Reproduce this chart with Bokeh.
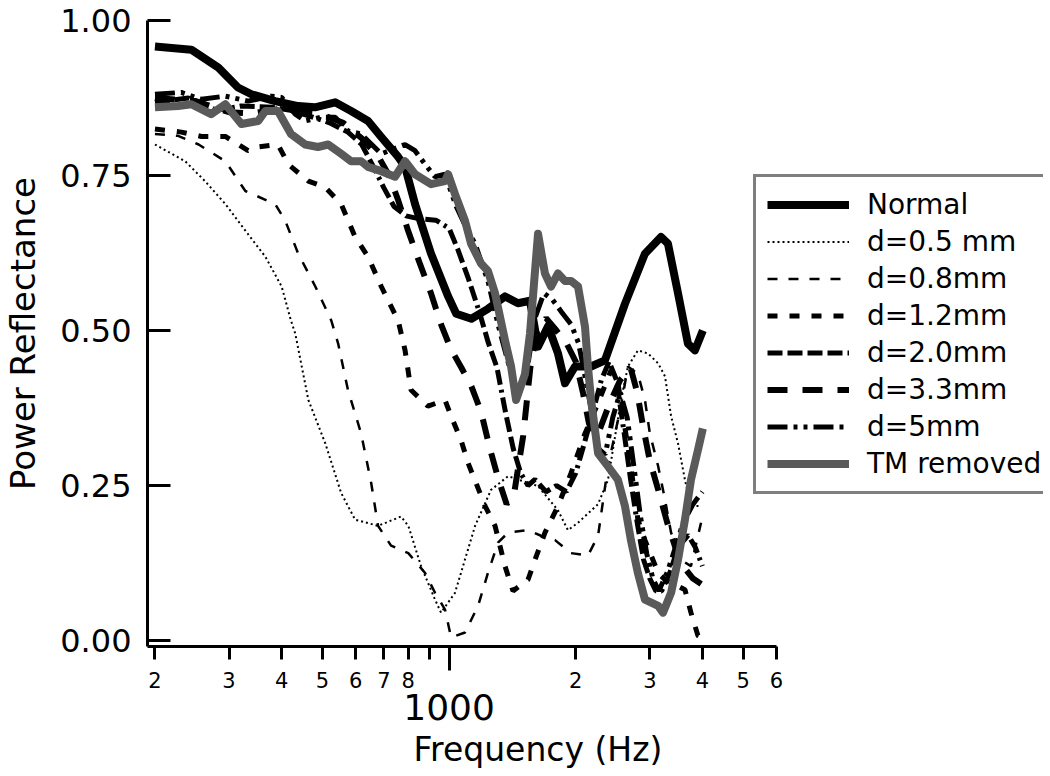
from bokeh.plotting import figure
from bokeh.models import Range1d, FixedTicker, Legend, LegendItem, LogAxis, Title
from bokeh.embed import file_html
from bokeh.resources import INLINE

# ---------------- data ----------------
freq_normal = [200, 244, 283, 315, 339, 386, 438, 480, 536, 585, 642, 690, 757, 786, 830, 906, 995,
               1040, 1130, 1237, 1358, 1458, 1557, 1627, 1719, 1815, 1886, 1992, 2175, 2347, 2618,
               2921, 3188, 3313, 3500, 3695, 3840, 4010]
refl_normal = [0.958, 0.953, 0.924, 0.892, 0.881, 0.870, 0.862, 0.860, 0.868, 0.854, 0.838, 0.812,
               0.780, 0.764, 0.704, 0.624, 0.555, 0.527, 0.519, 0.535, 0.555, 0.544, 0.548, 0.474,
               0.507, 0.463, 0.415, 0.442, 0.442, 0.452, 0.543, 0.624, 0.651, 0.640, 0.560, 0.479,
               0.468, 0.500]

freq_d05 = [200, 236, 263, 294, 328, 366, 400, 421, 431, 463, 508, 554, 598, 678, 769, 800, 858, 926,
            957, 1033, 1153, 1258, 1381, 1627, 1815, 1917, 2025, 2260, 2386, 2562, 2661, 2810, 2970,
            3140, 3260, 3370, 3500, 3636, 3757, 3970]
refl_d05 = [0.80, 0.773, 0.741, 0.704, 0.661, 0.619, 0.571, 0.516, 0.495, 0.388, 0.318, 0.238, 0.195,
            0.185, 0.20, 0.185, 0.12, 0.066, 0.045, 0.077, 0.185, 0.243, 0.265, 0.249, 0.21, 0.178,
            0.19, 0.22, 0.259, 0.388, 0.442, 0.468, 0.463, 0.447, 0.426, 0.362, 0.318, 0.259, 0.217,
            0.217]

freq_d08 = [200, 227, 254, 283, 294, 328, 386, 408, 438, 481, 525, 545, 575, 618, 653, 678, 728, 800,
            877, 926, 978, 1011, 1091, 1172, 1237, 1307, 1381, 1540, 1654, 1786, 1949, 2138, 2260,
            2386, 2480, 2562, 2661, 2810, 2921, 3000, 3140, 3260, 3370, 3556, 3757, 3970]
refl_d08 = [0.817, 0.814, 0.80, 0.78, 0.773, 0.725, 0.704, 0.677, 0.624, 0.571, 0.516, 0.479, 0.404,
            0.334, 0.254, 0.185, 0.153, 0.141, 0.109, 0.077, 0.05, 0.005, 0.013, 0.056, 0.109, 0.158,
            0.174, 0.178, 0.169, 0.162, 0.141, 0.137, 0.169, 0.281, 0.334, 0.378, 0.442, 0.43, 0.388,
            0.334, 0.281, 0.227, 0.174, 0.13, 0.12, 0.19]

freq_d12 = [200, 231, 258, 294, 333, 352, 392, 415, 463, 508, 554, 598, 642, 690, 757, 786, 812, 891,
            978, 1011, 1068, 1110, 1159, 1218, 1286, 1358, 1419, 1540, 1600, 1690, 1815, 1949, 2104,
            2260, 2426, 2520, 2705, 2810, 2921, 3140, 3260, 3636, 3757, 3903, 4000]
refl_d12 = [0.825, 0.82, 0.813, 0.813, 0.79, 0.796, 0.80, 0.768, 0.741, 0.731, 0.704, 0.651, 0.619,
            0.571, 0.516, 0.468, 0.404, 0.378, 0.388, 0.362, 0.323, 0.286, 0.254, 0.217, 0.185, 0.12,
            0.08, 0.098, 0.13, 0.174, 0.217, 0.27, 0.334, 0.383, 0.436, 0.415, 0.281, 0.195, 0.162,
            0.109, 0.098, 0.082, 0.045, 0.008, 0.003]

freq_d20 = [200, 240, 280, 320, 380, 420, 470, 520, 575, 620, 660, 700, 740, 790, 850, 930, 1000,
            1050, 1110, 1180, 1240, 1300, 1360, 1420, 1480, 1540, 1600, 1700, 1800, 1900, 2000, 2100,
            2200, 2300, 2400, 2500, 2600, 2700, 2800, 2900, 3000, 3100, 3200, 3350, 3500, 3700, 3850,
            4000]
refl_d20 = [0.868, 0.875, 0.855, 0.862, 0.86, 0.855, 0.845, 0.835, 0.82, 0.80, 0.765, 0.73, 0.70,
            0.685, 0.68, 0.678, 0.665, 0.63, 0.585, 0.53, 0.48, 0.44, 0.37, 0.31, 0.27, 0.25, 0.26,
            0.24, 0.25, 0.24, 0.27, 0.32, 0.37, 0.42, 0.45, 0.42, 0.34, 0.26, 0.19, 0.13, 0.10, 0.08,
            0.08, 0.11, 0.15, 0.17, 0.15, 0.12]

freq_d33 = [200, 250, 300, 340, 400, 450, 500, 560, 620, 680, 720, 757, 800, 850, 906, 957, 1010,
            1070, 1130, 1190, 1250, 1310, 1370, 1430, 1500, 1560, 1620, 1700, 1800, 1900, 2000, 2080,
            2150, 2250, 2400, 2550, 2700, 2800, 2900, 3000, 3150, 3300, 3450, 3600, 3800, 4000]
refl_d33 = [0.875, 0.87, 0.852, 0.85, 0.858, 0.852, 0.848, 0.835, 0.81, 0.78, 0.75, 0.71, 0.66, 0.61,
            0.56, 0.51, 0.47, 0.44, 0.41, 0.37, 0.31, 0.26, 0.22, 0.24, 0.33, 0.44, 0.50, 0.52, 0.50,
            0.48, 0.45, 0.40, 0.35, 0.33, 0.38, 0.42, 0.44, 0.40, 0.34, 0.29, 0.24, 0.19, 0.15, 0.12,
            0.10, 0.09]

freq_d5 = [200, 231, 258, 294, 333, 378, 400, 431, 455, 497, 536, 575, 618, 690, 786, 830, 877, 926,
           978, 1040, 1100, 1153, 1237, 1307, 1380, 1450, 1520, 1600, 1680, 1760, 1850, 1950, 2030,
           2100, 2180, 2260, 2350, 2450, 2550, 2650, 2750, 2850, 2950, 3050, 3150, 3300, 3450, 3600,
           3800, 4000]
refl_d5 = [0.881, 0.884, 0.873, 0.878, 0.87, 0.878, 0.876, 0.849, 0.838, 0.844, 0.844, 0.822, 0.817,
           0.785, 0.80, 0.79, 0.768, 0.748, 0.752, 0.70, 0.665, 0.64, 0.58, 0.51, 0.45, 0.40, 0.42,
           0.52, 0.56, 0.55, 0.53, 0.51, 0.48, 0.43, 0.37, 0.31, 0.30, 0.36, 0.40, 0.36, 0.28, 0.20,
           0.14, 0.10, 0.08, 0.11, 0.15, 0.19, 0.22, 0.24]

freq_tm = [200, 227, 244, 272, 294, 321, 352, 366, 392, 421, 455, 488, 516, 554, 585, 618, 642, 690,
           744, 786, 830, 906, 978, 995, 1033, 1091, 1128, 1191, 1237, 1286, 1358, 1404, 1443, 1515,
           1557, 1627, 1690, 1747, 1815, 1886, 1949, 2025, 2104, 2138, 2175, 2260, 2386, 2520, 2618,
           2705, 2810, 2921, 3140, 3224, 3370, 3500, 3636, 3757, 3903, 4010]
refl_tm = [0.860, 0.862, 0.865, 0.849, 0.865, 0.833, 0.838, 0.854, 0.854, 0.817, 0.80, 0.796, 0.80,
           0.785, 0.773, 0.773, 0.764, 0.757, 0.748, 0.773, 0.752, 0.736, 0.741, 0.752, 0.72, 0.677,
           0.64, 0.608, 0.596, 0.56, 0.484, 0.442, 0.388, 0.43, 0.495, 0.656, 0.592, 0.571, 0.592,
           0.58, 0.58, 0.571, 0.506, 0.442, 0.388, 0.302, 0.281, 0.259, 0.217, 0.162, 0.109, 0.066,
           0.056, 0.045, 0.077, 0.13, 0.195, 0.259, 0.307, 0.342]

series_labels = ["Normal", "d=0.5 mm", "d=0.8mm", "d=1.2mm", "d=2.0mm", "d=3.3mm", "d=5mm", "TM removed"]

y_tick_values = [0.0, 0.25, 0.5, 0.75, 1.0]
y_tick_labels = ["0.00", "0.25", "0.50", "0.75", "1.00"]
x_tick_values = [200, 300, 400, 500, 600, 700, 800, 900, 2000, 3000, 4000, 5000, 6000]
x_tick_labels = ["2", "3", "4", "5", "6", "7", "8", "", "2", "3", "4", "5", "6"]
x_decade_tick = 1000
x_decade_label = "1000"
x_title = "Frequency (Hz)"
y_title = "Power Reflectance"

# ---------------- layout ----------------
FONT = "DejaVu Sans"
x_start, x_axis_end = 192.0, 6000.0
axis_px, frame_w = 629.0, 896
x_end = x_start * (x_axis_end / x_start) ** (frame_w / axis_px)

p = figure(frame_width=frame_w, frame_height=626, x_axis_type="log", output_backend="svg",
           toolbar_location=None,
           x_range=Range1d(x_start, x_end), y_range=Range1d(-0.0096, 1.0),
           min_border_left=143, min_border_right=2, min_border_top=20, min_border_bottom=0)
p.outline_line_color = None
p.grid.visible = False
p.background_fill_color = "white"

# y axis
ya = p.yaxis[0]
ya.ticker = FixedTicker(ticks=y_tick_values, minor_ticks=[])
ya.major_label_overrides = {v: s for v, s in zip(y_tick_values, y_tick_labels)}
ya.major_tick_in = 23
ya.major_tick_out = 0
ya.minor_tick_in = 0
ya.minor_tick_out = 0
ya.axis_line_width = 3
ya.major_tick_line_width = 3
ya.major_label_text_font = FONT
ya.major_label_text_font_size = "32px"
ya.major_label_text_color = "black"
ya.major_label_standoff = 16
ya.axis_label = y_title
ya.axis_label_text_font = FONT
ya.axis_label_text_font_size = "34px"
ya.axis_label_text_font_style = "normal"
ya.axis_label_text_color = "black"
ya.axis_label_standoff = 14

# x axis (digits)
xa = p.xaxis[0]
xa.bounds = (x_start, x_axis_end)
xa.ticker = FixedTicker(ticks=x_tick_values, minor_ticks=[x_decade_tick])
xa.major_label_overrides = {v: s for v, s in zip(x_tick_values, x_tick_labels)}
xa.major_tick_in = 0
xa.major_tick_out = 13
xa.minor_tick_in = 0
xa.minor_tick_out = 24
xa.axis_line_width = 3
xa.major_tick_line_width = 3
xa.minor_tick_line_width = 3
xa.major_label_text_font = FONT
xa.major_label_text_font_size = "21px"
xa.major_label_text_color = "black"
xa.major_label_standoff = 1

# second axis below: decade label
xa2 = LogAxis(ticker=FixedTicker(ticks=[x_decade_tick], minor_ticks=[]),
              major_label_overrides={x_decade_tick: x_decade_label})
xa2.axis_line_color = None
xa2.major_tick_line_color = None
xa2.minor_tick_line_color = None
xa2.major_tick_out = 0
xa2.major_tick_in = 0
xa2.major_label_standoff = 3
xa2.major_label_text_font = FONT
xa2.major_label_text_font_size = "36px"
xa2.major_label_text_color = "black"
p.add_layout(xa2, "below")

# axis title, placed below as a left-aligned title
p.add_layout(Title(text=x_title, align="left", offset=266, standoff=11,
                   text_font=FONT, text_font_size="33px", text_font_style="normal",
                   text_color="black"), "below")

# ---------------- lines ----------------
styles = [
    (freq_normal, refl_normal, dict(line_color="black", line_width=8, line_join="round")),
    (freq_d05, refl_d05, dict(line_color="black", line_width=2, line_dash="2 3")),
    (freq_d08, refl_d08, dict(line_color="black", line_width=2.5, line_dash="10 11")),
    (freq_d12, refl_d12, dict(line_color="black", line_width=5, line_dash="10 12")),
    (freq_d20, refl_d20, dict(line_color="black", line_width=5, line_dash="15 5 15 5 15 5 15 5 3 5")),
    (freq_d33, refl_d33, dict(line_color="black", line_width=6, line_dash="20 15")),
    (freq_d5, refl_d5, dict(line_color="black", line_width=5, line_dash="20 6 4 6 4 6")),
    (freq_tm, refl_tm, dict(line_color="#5a5a5a", line_width=8, line_join="round")),
]
renderers = []
for xs, ys, st in styles:
    renderers.append(p.line(xs, ys, **st))

items = [LegendItem(label=lab, renderers=[r]) for lab, r in zip(series_labels, renderers)]
legend = Legend(items=items, location=(606, 152), orientation="vertical",
                border_line_color="black", border_line_width=3, background_fill_color="white",
                background_fill_alpha=1.0, padding=11, spacing=4, margin=0,
                glyph_width=82, glyph_height=31, label_height=31, label_standoff=18,
                label_text_font=FONT, label_text_font_size="28px", label_text_color="black",
                label_text_baseline="middle")
p.add_layout(legend)

open("out.html", "w").write(file_html(p, INLINE))
